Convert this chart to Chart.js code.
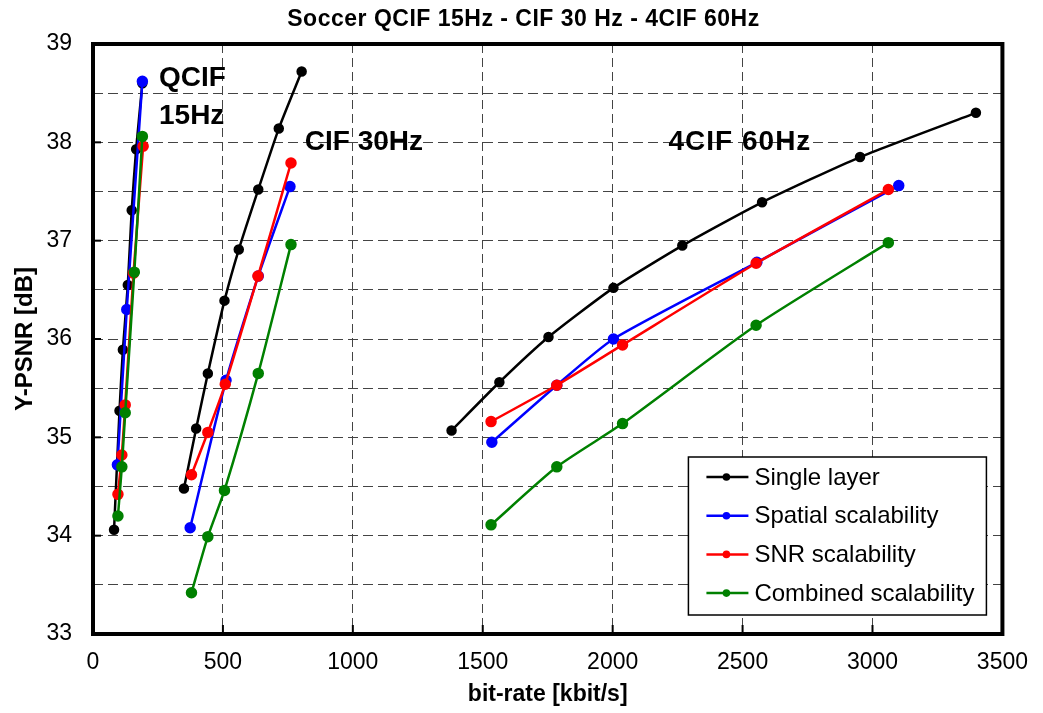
<!DOCTYPE html>
<html><head><meta charset="utf-8">
<script src="https://cdn.jsdelivr.net/npm/chart.js@4"></script>
<style>html,body{margin:0;padding:0;background:#fff}#wrap{width:1043px;height:713px;position:relative}</style>
</head><body><div id="wrap"><canvas id="c" width="1043" height="713"></canvas></div>
<script>
// ---- data (bit-rate kbit/s, Y-PSNR dB) ----
const singleQCIF = [[81,34.06],[102,35.27],[115,35.89],[134,36.55],[149,37.31],[166,37.93],[190,38.60]];
const singleCIF  = [[350,34.48],[397,35.09],[442,35.65],[506,36.39],[561,36.91],[636,37.52],[715,38.14],[803,38.72]];
const single4CIF = [[1380,35.07],[1564,35.56],[1753,36.02],[2003,36.52],[2268,36.95],[2575,37.39],[2952,37.85],[3398,38.30]];

const spatialQCIF = [[94,34.72],[130,36.30],[190,38.62]];
const spatialCIF  = [[374,34.08],[512,35.58],[636,36.64],[758,37.55]];
const spatial4CIF = [[1535,34.95],[1785,35.53],[2003,36.00],[2555,36.78],[3101,37.56]];

const snrQCIF = [[96,34.42],[111,34.82],[124,35.33],[156,36.67],[193,37.96]];
const snrCIF  = [[379,34.62],[442,35.05],[509,35.54],[635,36.64],[762,37.79]];
const snr4CIF = [[1532,35.16],[1785,35.53],[2038,35.94],[2552,36.77],[3061,37.52]];

const combQCIF = [[96,34.20],[111,34.70],[124,35.25],[159,36.68],[190,38.06]];
const combCIF  = [[379,33.42],[442,33.99],[506,34.46],[636,35.65],[762,36.96]];
const comb4CIF = [[1532,34.11],[1785,34.70],[2038,35.14],[2552,36.14],[3061,36.98]];

const seriesNames = ['Single layer','Spatial scalability','SNR scalability','Combined scalability'];
const seriesColors = ['#000000','#0000ff','#ff0000','#008000'];
const xTicksMin = 0, xTicksMax = 3500, xStep = 500;
const yTicksMin = 33, yTicksMax = 39, yStep = 0.5;
const chartTitle = 'Soccer QCIF 15Hz - CIF 30 Hz - 4CIF 60Hz';
const xTitle = 'bit-rate [kbit/s]';
const yTitle = 'Y-PSNR [dB]';
const annotations = [
  {text:'QCIF', x:254, y:38.65, align:'left', spacing:0},
  {text:'15Hz', x:254, y:38.27, align:'left', spacing:0},
  {text:'CIF 30Hz', x:815, y:38.0, align:'left', spacing:0},
  {text:'4CIF 60Hz', x:2215, y:38.0, align:'left', spacing:1}
];

const FONT = '"Liberation Sans", Arial, sans-serif';

function joinSegments(...segs){
  const out = [];
  segs.forEach((s,i)=>{
    if(i>0){ out.push({x:s[0][0]-1, y:null}); }
    s.forEach(p=>out.push({x:p[0], y:p[1]}));
  });
  return out;
}
const seriesData = [
  joinSegments(singleQCIF, singleCIF, single4CIF),
  joinSegments(spatialQCIF, spatialCIF, spatial4CIF),
  joinSegments(snrQCIF, snrCIF, snr4CIF),
  joinSegments(combQCIF, combCIF, comb4CIF)
];
const datasets = seriesData.map((d,i)=>({
  label: seriesNames[i],
  data: d,
  showLine: true,
  spanGaps: false,
  borderColor: seriesColors[i],
  backgroundColor: seriesColors[i],
  pointBackgroundColor: seriesColors[i],
  pointBorderColor: seriesColors[i],
  borderWidth: 2.5,
  pointRadius: i===0 ? 4 : 4.5,
  pointHoverRadius: 4.5,
  tension: 0.2,
  order: 3 - i
}));

function setSpacing(ctx, s){ try { ctx.letterSpacing = s + 'px'; } catch(e) {} }

const decor = {
  id:'decor',
  afterDatasetsDraw(chart){
    const {ctx, chartArea:a, scales:{x, y}} = chart;
    ctx.save();
    // title
    ctx.fillStyle = '#000';
    ctx.font = 'bold 23px ' + FONT;
    ctx.textAlign = 'center'; ctx.textBaseline = 'middle';
    setSpacing(ctx, 0.5);
    ctx.fillText(chartTitle, chart.width/2 + 2, 20);
    setSpacing(ctx, 0);
    // inward tick marks
    ctx.strokeStyle = '#000'; ctx.lineWidth = 2;
    for(let v=xTicksMin; v<=xTicksMax; v+=xStep){
      const px = x.getPixelForValue(v);
      ctx.beginPath(); ctx.moveTo(px, a.bottom); ctx.lineTo(px, a.bottom-9); ctx.stroke();
    }
    for(let v=yTicksMin; v<=yTicksMax; v+=1){
      const py = y.getPixelForValue(v);
      ctx.beginPath(); ctx.moveTo(a.left, py); ctx.lineTo(a.left+8, py); ctx.stroke();
    }
    // frame
    ctx.lineWidth = 4; ctx.strokeStyle = '#000';
    ctx.strokeRect(a.left, a.top, a.right-a.left, a.bottom-a.top);
    // annotations
    ctx.fillStyle = '#000';
    ctx.font = 'bold 28px ' + FONT;
    ctx.textBaseline = 'middle';
    annotations.forEach(an=>{
      ctx.textAlign = an.align;
      setSpacing(ctx, an.spacing);
      ctx.fillText(an.text, x.getPixelForValue(an.x), y.getPixelForValue(an.y));
    });
    setSpacing(ctx, 0);
    // legend box
    const bw = 298, bh = 158;
    const bx = a.right - 16 - bw, by = a.bottom - 19 - bh;
    ctx.fillStyle = '#fff';
    ctx.fillRect(bx, by, bw, bh);
    ctx.lineWidth = 1.5; ctx.strokeStyle = '#000';
    ctx.strokeRect(bx, by, bw, bh);
    ctx.font = '24px ' + FONT;
    ctx.textAlign = 'left'; ctx.textBaseline = 'middle';
    seriesNames.forEach((n,i)=>{
      const ry = by + 20 + i*38.7;
      ctx.strokeStyle = seriesColors[i]; ctx.lineWidth = 2.5;
      ctx.beginPath(); ctx.moveTo(bx+18, ry); ctx.lineTo(bx+60, ry); ctx.stroke();
      ctx.fillStyle = seriesColors[i];
      ctx.beginPath(); ctx.arc(bx+38, ry, 3.8, 0, Math.PI*2); ctx.fill();
      ctx.fillStyle = '#000';
      ctx.fillText(n, bx+66, ry+1);
    });
    ctx.restore();
  }
};

new Chart(document.getElementById('c'), {
  type:'scatter',
  data:{datasets},
  plugins:[decor],
  options:{
    responsive:false,
    animation:false,
    events:[],
    layout:{padding:{left:0, right:26, top:44, bottom:0}},
    plugins:{
      legend:{display:false},
      tooltip:{enabled:false},
      title:{display:false}
    },
    scales:{
      x:{type:'linear', min:xTicksMin, max:xTicksMax,
        afterFit(axis){ axis.height = 79; },
        ticks:{stepSize:xStep, color:'#000', padding:15, maxRotation:0,
          font:{family:FONT, size:23},
          callback:(v)=> String(v)},
        grid:{color:'#444444', lineWidth:1, drawTicks:false},
        border:{display:false, dash:[9,5]},
        title:{display:true, text:xTitle, color:'#000',
          font:{family:FONT, size:23, weight:'bold', lineHeight:1.2}, padding:{top:0,bottom:5}}
      },
      y:{type:'linear', min:yTicksMin, max:yTicksMax,
        afterFit(axis){ axis.width = 93; },
        ticks:{stepSize:yStep, color:'#000', padding:21,
          font:{family:FONT, size:23},
          callback:(v)=> Number.isInteger(v) ? String(v) : ''},
        grid:{color:'#444444', lineWidth:1, drawTicks:false},
        border:{display:false, dash:[10,5]},
        title:{display:true, text:yTitle, color:'#000',
          font:{family:FONT, size:24, weight:'bold', lineHeight:1.2}, padding:{top:11,bottom:0}}
      }
    }
  }
});
</script></body></html>
